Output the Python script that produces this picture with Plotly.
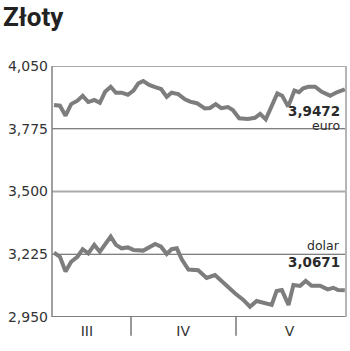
import plotly.graph_objects as go

title = "Złoty"
month_labels = ["III", "IV", "V"]
month_label_days = [18.4, 45.9, 76.3]
month_start_days = [31, 61]
x_range = [8.43, 92.43]
y_ticks = [2.950, 3.225, 3.500, 3.775, 4.050]
y_tick_labels = ["2,950", "3,225", "3,500", "3,775", "4,050"]
light_grid = [3.500, 4.050]
dark_grid = [3.225, 3.775]

euro_days = [9.0, 10.7, 12.3, 13.9, 15.7, 17.2, 18.8, 20.5, 22.1, 23.6, 25.2, 26.7,
             28.3, 30.1, 31.7, 33.1, 34.5, 36.2, 37.9, 39.6, 41.2, 42.6, 44.5, 46.4,
             47.9, 49.8, 52.1, 53.6, 55.2, 56.8, 58.7, 60.1, 61.9, 64.4, 66.4, 67.9,
             69.5, 71.2, 72.8, 74.2, 75.9, 77.7, 79.0, 80.2, 81.7, 83.6, 85.5, 87.9,
             89.8, 92.1]
euro_vals = [3.879, 3.876, 3.832, 3.883, 3.898, 3.919, 3.892, 3.901, 3.889, 3.937,
             3.959, 3.933, 3.933, 3.924, 3.942, 3.974, 3.984, 3.967, 3.957, 3.949,
             3.915, 3.933, 3.927, 3.904, 3.894, 3.887, 3.864, 3.866, 3.883, 3.865,
             3.870, 3.857, 3.821, 3.818, 3.823, 3.840, 3.816, 3.872, 3.930, 3.920,
             3.872, 3.942, 3.935, 3.952, 3.959, 3.959, 3.937, 3.920, 3.935, 3.9472]

usd_days = [9.0, 10.7, 12.3, 13.9, 15.7, 17.2, 18.8, 20.5, 22.1, 23.6, 25.2, 26.7,
            28.3, 30.1, 31.7, 34.5, 36.2, 37.9, 39.6, 41.2, 42.6, 44.1, 45.5, 47.4,
            50.2, 52.6, 55.0, 57.9, 60.7, 63.1, 65.0, 66.9, 69.3, 71.2, 72.6, 74.1,
            76.0, 77.4, 79.3, 80.9, 82.6, 85.0, 87.2, 88.8, 90.2, 92.1]
usd_vals = [3.232, 3.214, 3.149, 3.192, 3.214, 3.247, 3.229, 3.266, 3.236, 3.266,
            3.302, 3.266, 3.251, 3.255, 3.244, 3.241, 3.258, 3.270, 3.258, 3.226,
            3.247, 3.251, 3.203, 3.158, 3.155, 3.121, 3.134, 3.092, 3.054, 3.025,
            2.995, 3.020, 3.010, 3.003, 3.064, 3.068, 3.003, 3.090, 3.086, 3.108,
            3.087, 3.087, 3.071, 3.078, 3.068, 3.0671]

LINE = "#7d7d7d"
FONT = "DejaVu Sans"

fig = go.Figure()
fig.add_trace(go.Scatter(x=euro_days, y=euro_vals, mode="lines",
                         line=dict(color=LINE, width=4), hoverinfo="skip"))
fig.add_trace(go.Scatter(x=usd_days, y=usd_vals, mode="lines",
                         line=dict(color=LINE, width=4), hoverinfo="skip"))

shapes = []
for g in light_grid:
    shapes.append(dict(type="line", xref="paper", x0=0, x1=1, yref="y", y0=g, y1=g,
                       line=dict(color="#ababab", width=2), layer="below"))
for g in dark_grid:
    shapes.append(dict(type="line", xref="paper", x0=0, x1=1, yref="y", y0=g, y1=g,
                       line=dict(color="#555555", width=1), layer="below"))
# bottom axis
shapes.append(dict(type="line", xref="paper", x0=0, x1=1, yref="y", y0=y_ticks[0], y1=y_ticks[0],
                   line=dict(color="#555555", width=1.5), layer="below"))
# left border
shapes.append(dict(type="line", xref="paper", x0=0, x1=0, yref="paper", y0=0, y1=1,
                   line=dict(color="#808080", width=1.5), layer="below"))
# right border
shapes.append(dict(type="line", xref="paper", x0=1, x1=1, yref="paper", y0=0, y1=1,
                   line=dict(color="#b5b5b5", width=2), layer="below"))
# month dividers
for d in month_start_days:
    shapes.append(dict(type="line", xref="x", x0=d, x1=d, yref="paper", y0=0, y1=-0.075,
                       line=dict(color="#555555", width=1.2)))

annotations = [
    dict(x=91.3, y=3.853, xref="x", yref="y", text="<b>3,9472</b>", showarrow=False,
         xanchor="right", yanchor="middle", font=dict(family=FONT, size=13.5, color="#2a2a2a")),
    dict(x=91.3, y=3.789, xref="x", yref="y", text="euro", showarrow=False,
         xanchor="right", yanchor="middle", font=dict(family=FONT, size=12.5, color="#2a2a2a")),
    dict(x=91.3, y=3.2655, xref="x", yref="y", text="dolar", showarrow=False,
         xanchor="right", yanchor="middle", font=dict(family=FONT, size=12.5, color="#2a2a2a")),
    dict(x=91.3, y=3.189, xref="x", yref="y", text="<b>3,0671</b>", showarrow=False,
         xanchor="right", yanchor="middle", font=dict(family=FONT, size=13.5, color="#2a2a2a")),
]

fig.update_layout(
    width=350, height=351,
    margin=dict(l=52, r=4, t=66, b=34),
    paper_bgcolor="white", plot_bgcolor="white",
    showlegend=False,
    title=dict(text="<b>" + title + "</b>", x=3 / 350, xanchor="left", xref="container",
               y=1 - 17 / 351, yanchor="middle", yref="container",
               font=dict(family="Roboto", size=26, color="#222222")),
    shapes=shapes,
    annotations=annotations,
    xaxis=dict(range=x_range, showgrid=False, zeroline=False, showline=False,
               tickmode="array", tickvals=month_label_days, ticktext=month_labels,
               ticks="", tickfont=dict(family=FONT, size=14, color="#333333"),
               ticklabelstandoff=4, fixedrange=True),
    yaxis=dict(range=[y_ticks[0], y_ticks[-1]], showgrid=False, zeroline=False, showline=False,
               tickmode="array", tickvals=y_ticks, ticktext=y_tick_labels,
               ticks="", tickfont=dict(family=FONT, size=14, color="#333333"),
               ticklabelstandoff=3, fixedrange=True),
)

fig.write_html("out.html", config={"displayModeBar": False})
